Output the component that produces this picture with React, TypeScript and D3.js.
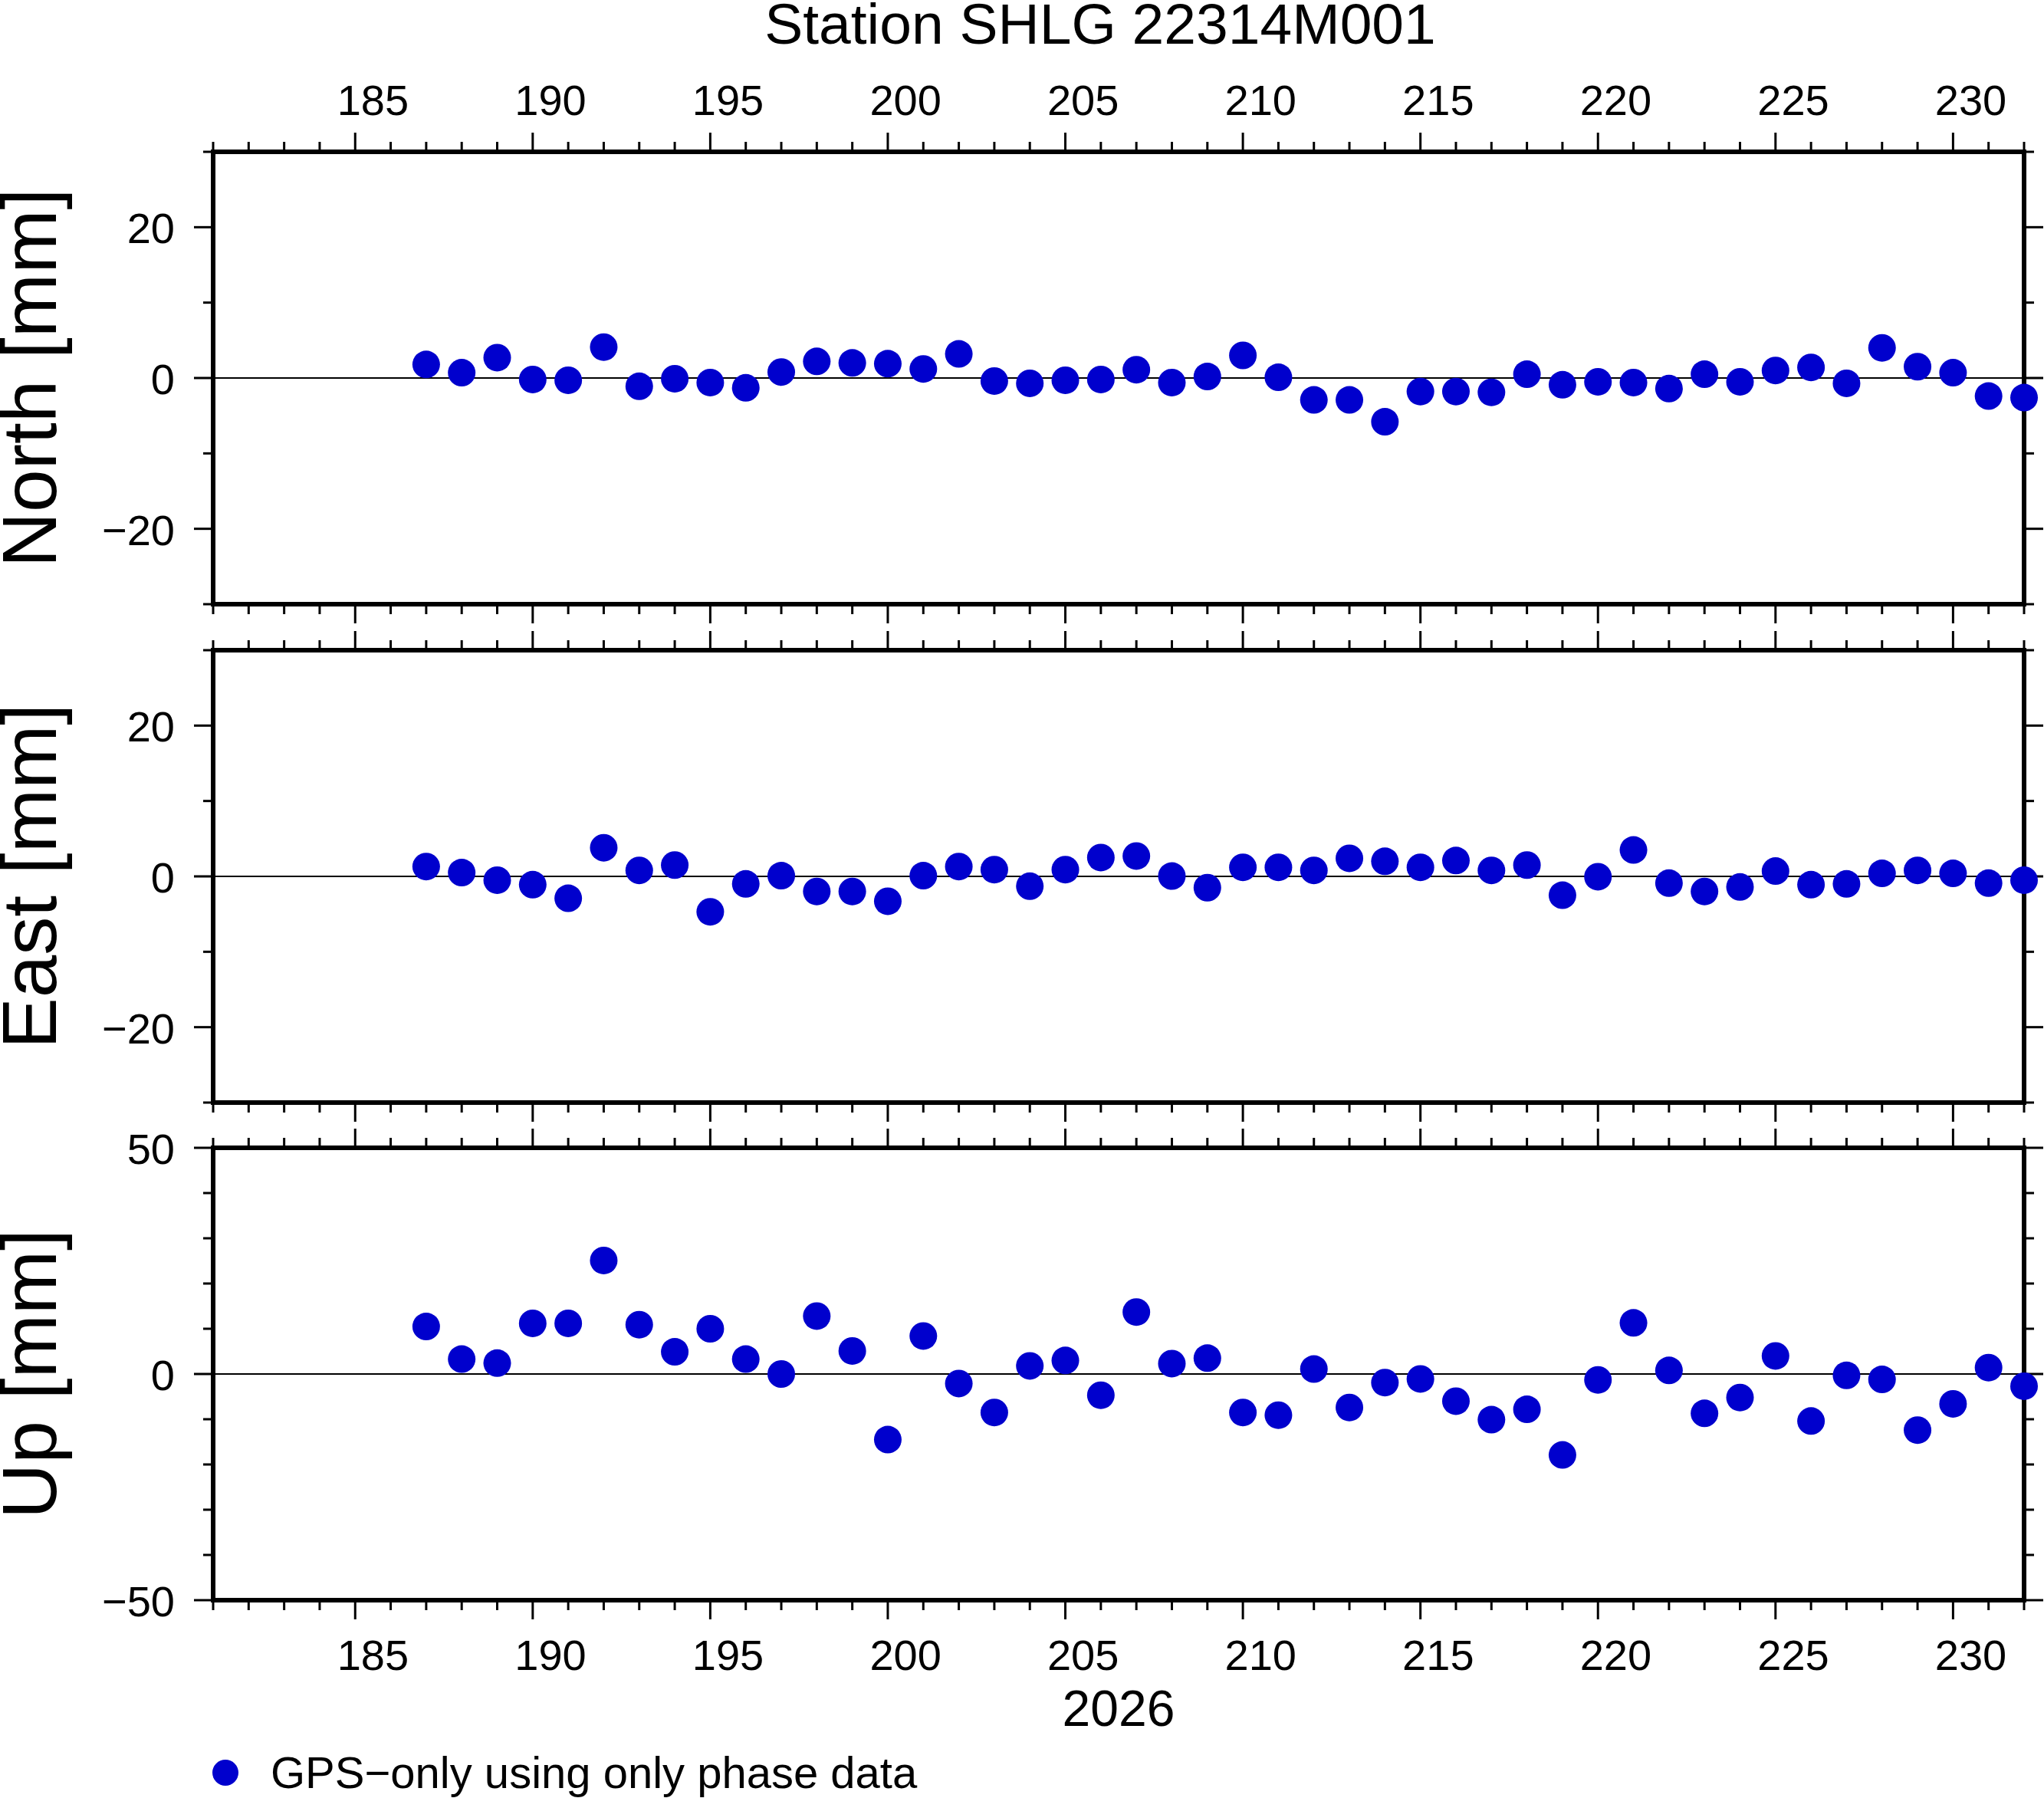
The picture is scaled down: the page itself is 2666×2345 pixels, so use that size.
import React, { useEffect, useRef } from 'react';
import * as d3 from 'd3';

// day of year (2026)
const days = [
  187, 188, 189, 190, 191, 192, 193, 194, 195, 196, 197, 198, 199, 200, 201, 202, 203,
  204, 205, 206, 207, 208, 209, 210, 211, 212, 213, 214, 215, 216, 217, 218, 219, 220,
  221, 222, 223, 224, 225, 226, 227, 228, 229, 230, 231, 232
];

const northValues = [
  1.8, 0.7, 2.7, -0.2, -0.3, 4.1, -1.1, -0.1, -0.6, -1.3, 0.8, 2.2, 2.0, 1.9, 1.2, 3.2, -0.4,
  -0.7, -0.3, -0.2, 1.1, -0.6, 0.2, 3.0, 0.1, -2.9, -2.9, -5.8, -1.8, -1.8, -1.9, 0.5, -0.9,
  -0.5, -0.6, -1.4, 0.5, -0.5, 1.0, 1.4, -0.7, 4.0, 1.5, 0.7, -2.4, -2.6
];

const eastValues = [
  1.3, 0.5, -0.5, -1.1, -2.9, 3.8, 0.8, 1.5, -4.7, -1.0, 0.1, -2.0, -2.0, -3.3, 0.1, 1.3, 0.9,
  -1.3, 0.9, 2.5, 2.7, 0.05, -1.5, 1.2, 1.2, 0.8, 2.4, 2.0, 1.2, 2.1, 0.8, 1.5, -2.5,
  -0.05, 3.5, -0.9, -2.0, -1.4, 0.7, -1.1, -1.0, 0.4, 0.8, 0.4, -0.9, -0.5
];

const upValues = [
  10.5, 3.3, 2.4, 11.2, 11.2, 25.1, 10.9, 4.9, 10.0, 3.3, 0.0, 12.8, 5.1, -14.5, 8.4, -2.1, -8.5,
  1.8, 3.0, -4.7, 13.7, 2.3, 3.5, -8.5, -9.1, 1.1, -7.4, -1.9, -1.1, -6.0, -10.1, -7.8, -17.9,
  -1.3, 11.3, 0.8, -8.7, -5.2, 4.0, -10.4, -0.3, -1.2, -12.4, -6.6, 1.4, -2.7
];

const dayDomain = [181, 232];
const dayLabels = [185, 190, 195, 200, 205, 210, 215, 220, 225, 230];
const yearLabel = '2026';
const title = 'Station SHLG 22314M001';
const legendLabel = 'GPS\u2212only using only phase data';

const panels = [
  { label: 'North [mm]', values: northValues, domain: [-30, 30], major: [-20, 0, 20], minor: [-30, -10, 10, 30] },
  { label: 'East [mm]', values: eastValues, domain: [-30, 30], major: [-20, 0, 20], minor: [-30, -10, 10, 30] },
  { label: 'Up [mm]', values: upValues, domain: [-50, 50], major: [-50, 0, 50], minor: [-40, -30, -20, -10, 10, 20, 30, 40] },
];

const W = 2666;
const H = 2345;
const FONT = '"Liberation Sans", Arial, Helvetica, sans-serif';
const DOT = '#0000cd';

const App: React.FC = () => {
  const svgRef = useRef<SVGSVGElement>(null);

  useEffect(() => {
    if (!svgRef.current) return;
    const svg = d3.select(svgRef.current);
    svg.selectAll('*').remove();

    const left = 278;
    const right = 2640;
    const panelTops = [198, 848, 1497];
    const panelH = 590;
    const majorLen = 25;
    const minorLen = 13;

    const x = d3.scaleLinear().domain(dayDomain).range([left, right]);
    const allDays = d3.range(dayDomain[0], dayDomain[1] + 1);

    // title
    svg.append('text')
      .attr('x', 1435)
      .attr('y', 57)
      .attr('text-anchor', 'middle')
      .style('font-family', FONT)
      .style('font-size', '75px')
      .text(title);

    panels.forEach((p, i) => {
      const top = panelTops[i];
      const bottom = top + panelH;
      const y = d3.scaleLinear().domain(p.domain).range([bottom, top]);
      const g = svg.append('g');

      // zero line
      g.append('line')
        .attr('x1', left).attr('x2', right)
        .attr('y1', y(0)).attr('y2', y(0))
        .attr('stroke', '#000')
        .attr('stroke-width', 2);

      // horizontal ticks, top and bottom, outward
      allDays.forEach(d => {
        const len = d % 5 === 0 ? majorLen : minorLen;
        g.append('line')
          .attr('x1', x(d)).attr('x2', x(d))
          .attr('y1', top).attr('y2', top - len)
          .attr('stroke', '#000').attr('stroke-width', 3);
        g.append('line')
          .attr('x1', x(d)).attr('x2', x(d))
          .attr('y1', bottom).attr('y2', bottom + len)
          .attr('stroke', '#000').attr('stroke-width', 3);
      });

      // vertical ticks, left and right, outward
      const yTicks = [
        ...p.major.map(v => ({ v, len: majorLen })),
        ...p.minor.map(v => ({ v, len: minorLen })),
      ];
      yTicks.forEach(t => {
        g.append('line')
          .attr('x1', left).attr('x2', left - t.len)
          .attr('y1', y(t.v)).attr('y2', y(t.v))
          .attr('stroke', '#000').attr('stroke-width', 3);
        g.append('line')
          .attr('x1', right).attr('x2', right + t.len)
          .attr('y1', y(t.v)).attr('y2', y(t.v))
          .attr('stroke', '#000').attr('stroke-width', 3);
      });

      // y tick labels
      p.major.forEach(v => {
        g.append('text')
          .attr('x', 228)
          .attr('y', y(v) + 21)
          .attr('text-anchor', 'end')
          .style('font-family', FONT)
          .style('font-size', '56px')
          .text(v < 0 ? `\u2212${Math.abs(v)}` : `${v}`);
      });

      // frame
      g.append('rect')
        .attr('x', left).attr('y', top)
        .attr('width', right - left).attr('height', panelH)
        .attr('fill', 'none')
        .attr('stroke', '#000')
        .attr('stroke-width', 6);

      // axis title
      g.append('text')
        .attr('transform', `translate(73,${(top + bottom) / 2}) rotate(-90)`)
        .attr('text-anchor', 'middle')
        .style('font-family', FONT)
        .style('font-size', '100px')
        .text(p.label);

      // day labels on top of first panel, bottom of last panel
      if (i === 0 || i === panels.length - 1) {
        const ly = i === 0 ? 150 : 2178;
        dayLabels.forEach(d => {
          g.append('text')
            .attr('x', x(d + 0.5))
            .attr('y', ly)
            .attr('text-anchor', 'middle')
            .style('font-family', FONT)
            .style('font-size', '56px')
            .text(d);
        });
      }

      // data points
      g.selectAll('circle.pt')
        .data(p.values)
        .enter()
        .append('circle')
        .attr('class', 'pt')
        .attr('cx', (_, j) => x(days[j]))
        .attr('cy', v => y(v))
        .attr('r', 18)
        .attr('fill', DOT);
    });

    // year label
    svg.append('text')
      .attr('x', (left + right) / 2)
      .attr('y', 2251)
      .attr('text-anchor', 'middle')
      .style('font-family', FONT)
      .style('font-size', '66px')
      .text(yearLabel);

    // legend
    svg.append('circle')
      .attr('cx', 294).attr('cy', 2312).attr('r', 17)
      .attr('fill', DOT);
    svg.append('text')
      .attr('x', 353)
      .attr('y', 2332)
      .style('font-family', FONT)
      .style('font-size', '58px')
      .text(legendLabel);
  }, []);

  return (
    <svg
      ref={svgRef}
      width={W}
      height={H}
      style={{ position: 'absolute', left: 0, top: 0, background: '#fff' }}
    />
  );
};

export default App;
